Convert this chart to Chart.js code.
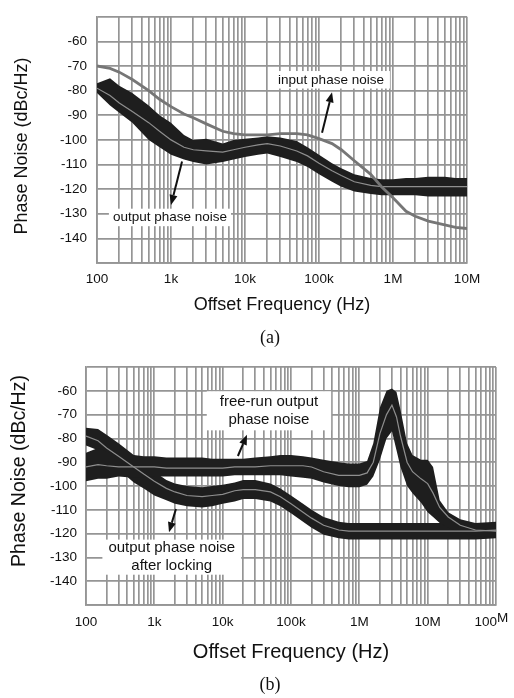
<!DOCTYPE html>
<html>
<head>
<meta charset="utf-8">
<script src="https://cdn.jsdelivr.net/npm/chart.js@4/dist/chart.umd.min.js"></script>
<style>
html,body{margin:0;padding:0;background:#fff;width:514px;height:698px;overflow:hidden}
.wrap{position:absolute;left:0;width:514px}
#wa{top:0;height:350px}
#wb{top:350px;height:348px}
.cap{position:absolute;font-family:"Liberation Serif","Times New Roman",serif;font-size:18px;color:#111;transform:translate(-50%,-50%);white-space:nowrap}
</style>
</head>
<body>
<div class="wrap" id="wa"><canvas id="ca" width="514" height="350"></canvas></div>
<div class="wrap" id="wb"><canvas id="cb" width="514" height="348"></canvas></div>
<div class="cap" style="left:270px;top:337px">(a)</div>
<div class="cap" style="left:270px;top:684px">(b)</div>
<script>
// ================= DATA: chart (a) =================
const freqA = [100,150,200,300,500,700,1e3,1.5e3,2e3,3e3,5e3,7e3,1e4,1.5e4,2e4,3e4,5e4,7e4,1e5,1.5e5,2e5,3e5,5e5,7e5,1e6,1.5e6,2e6,3e6,5e6,7e6,1e7];
const inputA = [-70,-71,-72.5,-75.5,-80,-83.5,-86.5,-89.5,-91,-93.5,-96.5,-97.5,-98,-98,-98,-97.5,-97.5,-98,-99.5,-101.5,-104,-108.5,-114,-119,-123.5,-129,-131,-133,-134.5,-135.5,-136];
const outputMeanA = [-79,-82,-85,-88.5,-93,-96.5,-100,-103,-104,-104.5,-105,-104,-103,-102,-101.5,-102.5,-104.5,-106.5,-109.5,-112.5,-114.5,-117,-118.5,-119,-119,-119,-119,-119,-119,-119,-119];
const outputUpperA = [-77,-75,-78,-81,-86,-90,-93,-98,-100,-99.5,-101.5,-100,-99.5,-99,-98.5,-99,-100.5,-103,-106,-109.5,-111.5,-114,-115.5,-116,-116,-115.5,-115.5,-115,-115,-115.5,-115.5];
const outputLowerA = [-81,-86,-89,-93,-100,-103,-106,-108,-109,-110,-109,-108,-107,-106,-105.5,-107,-109,-111,-114,-117,-119,-121,-122,-122.5,-122.5,-122.5,-122.5,-123,-123,-123,-123];
const xTickValuesA = [1e2,1e3,1e4,1e5,1e6,1e7];
const xTickLabelsA = ['100','1k','10k','100k','1M','10M'];

// ================= DATA: chart (b) =================
const freqB = [100,150,200,300,500,700,1e3,1.5e3,2e3,3e3,5e3,7e3,1e4,1.5e4,2e4,3e4,5e4,7e4,1e5,1.5e5,2e5,3e5,5e5,7e5,1e6,1.3e6,1.6e6,2e6,2.5e6,3e6,3.5e6,4e6,5e6,6e6,8e6,1e7,1.2e7,1.5e7,2e7,3e7,5e7,1e8];
const freeRunMeanB = [-92,-91,-91.5,-92,-92,-92,-92,-92.5,-92.5,-92.5,-92.5,-92.5,-92.5,-92,-92,-92,-91.5,-91.5,-91.5,-91.5,-92,-94,-95.5,-95.5,-95.5,-94.5,-90,-78,-70,-66,-71,-79,-90,-94,-97,-99,-103,-109,-113,-116.5,-118.5,-119];
const freeRunUpperB = [-86,-84,-85.5,-87,-87,-87.5,-87.5,-88,-88,-88,-88,-88.5,-88.5,-88.5,-88.5,-88,-87.5,-87,-87,-87.5,-88,-89,-90,-90.5,-90.5,-89.5,-82,-67,-60,-59,-60.5,-68,-82,-87,-89,-89,-92,-106,-111,-114,-115.5,-115.5];
const freeRunLowerB = [-98,-97,-97,-96,-96.5,-96.5,-96,-96,-96,-96,-96,-96,-96,-95.5,-95.5,-95.5,-95.5,-95.5,-96,-96.5,-97,-98.5,-100,-100.5,-100.5,-99.5,-96,-89,-80,-77,-85,-92,-100,-103,-107,-111,-113,-115.5,-117.5,-119.5,-121,-121.5];
const lockedMeanB = [-79,-81,-84,-87.5,-92,-95,-98,-101,-102.5,-104,-104.5,-104,-103.5,-102,-101.5,-101.5,-102.5,-104.5,-107.5,-111,-113.5,-116.5,-118.5,-119,-119,-119,-119,-119,-119,-119,-119,-119,-119,-119,-119,-119,-119,-119,-119,-119,-119,-118.5];
const lockedUpperB = [-75.5,-76,-78.5,-82,-87,-90.5,-94,-97.5,-99,-100,-100.5,-100,-99.5,-98.5,-97.5,-97.5,-99,-101,-104,-107.5,-110,-113,-115,-115.5,-115.5,-115.5,-115.5,-115.5,-115.5,-115.5,-115.5,-115.5,-115.5,-115.5,-115.5,-115.5,-115.5,-115.5,-115.5,-115.5,-115.5,-115];
const lockedLowerB = [-83,-85,-89,-93,-98.5,-101,-104,-106,-107.5,-108.5,-109,-108.5,-107.5,-106.5,-105.5,-105.5,-106.5,-108.5,-111.5,-115,-117.5,-120.5,-122,-122.5,-122.5,-122.5,-122.5,-122.5,-122.5,-122.5,-122.5,-122.5,-122.5,-122.5,-122.5,-122.5,-122.5,-122.5,-122.5,-122.5,-122.5,-122];
const xTickValuesB = [1e2,1e3,1e4,1e5,1e6,1e7,1e8];
const xTickLabelsB = ['100','1k','10k','100k','1M','10M','100M'];

// ================= shared axis labels =================
const yTickValues = [-150,-140,-130,-120,-110,-100,-90,-80,-70,-60,-50];
const yTickLabels = ['','-140','-130','-120','-110','-100','-90','-80','-70','-60',''];
const xTitle = 'Offset Frequency (Hz)';
const yTitle = 'Phase Noise (dBc/Hz)';

// ================= rendering =================
const FONT = '"Liberation Sans", Arial, Helvetica, sans-serif';
const GRID = '#959595';
const BAND = '#1e1e1e';
const MEAN = '#8e8e8e';
const INPUT = '#767676';

function pts(xs, ys){ return xs.map((x,i)=>({x:x, y:ys[i]})); }
function logGrid(lo, hi){
  const v=[];
  for(let e=lo;e<hi;e++){ for(let m=1;m<=9;m++){ v.push(m*Math.pow(10,e)); } }
  v.push(Math.pow(10,hi));
  return v;
}

function drawArrow(ctx, x1, y1, x2, y2){
  const ang = Math.atan2(y2-y1, x2-x1);
  const hl = 10, hw = 4;
  const bx = x2 - hl*Math.cos(ang), by = y2 - hl*Math.sin(ang);
  ctx.strokeStyle='#111'; ctx.fillStyle='#111'; ctx.lineWidth=2;
  ctx.beginPath(); ctx.moveTo(x1,y1); ctx.lineTo(bx,by); ctx.stroke();
  ctx.beginPath();
  ctx.moveTo(x2,y2);
  ctx.lineTo(bx + hw*Math.sin(ang), by - hw*Math.cos(ang));
  ctx.lineTo(bx - hw*Math.sin(ang), by + hw*Math.cos(ang));
  ctx.closePath(); ctx.fill();
}

const deco = {
  id:'deco',
  afterDatasetsDraw(chart, args, o){
    const ctx=chart.ctx, xs=chart.scales.x, ys=chart.scales.y;
    ctx.save();
    (o.labels||[]).forEach(l=>{
      ctx.font = l.size+'px '+FONT;
      const w = Math.max.apply(null, l.text.map(t=>ctx.measureText(t).width));
      const px = xs.getPixelForValue(l.x);
      const left = l.align==='left' ? px : px - w/2;
      const yFirst = ys.getPixelForValue(l.y[0]);
      const yLast = ys.getPixelForValue(l.y[l.y.length-1]);
      ctx.fillStyle='#fff';
      ctx.fillRect(left - l.padL, yFirst - l.size/2 - l.padY, w + l.padL + l.padR, (yLast-yFirst) + l.size + 2*l.padY);
      ctx.fillStyle='#111';
      ctx.textBaseline='middle';
      ctx.textAlign = l.align==='left' ? 'left' : 'center';
      l.text.forEach((t,i)=>ctx.fillText(t, px, ys.getPixelForValue(l.y[i])));
    });
    (o.arrows||[]).forEach(a=>{
      drawArrow(ctx, xs.getPixelForValue(a.from[0]), ys.getPixelForValue(a.from[1]),
                     xs.getPixelForValue(a.to[0]), ys.getPixelForValue(a.to[1]));
    });
    ctx.restore();
  },
  afterDraw(chart, args, o){
    const ctx=chart.ctx, xs=chart.scales.x;
    ctx.save();
    if(o.yTitle){
      ctx.translate(o.yTitle.x, o.yTitle.y);
      ctx.rotate(-Math.PI/2);
      ctx.font = o.yTitle.size+'px '+FONT;
      ctx.fillStyle='#111'; ctx.textAlign='center'; ctx.textBaseline='middle';
      ctx.fillText(o.yTitle.text, 0, 0);
      ctx.setTransform(1,0,0,1,0,0);
    }
    if(o.sup){
      const x = xs.getPixelForValue(o.sup.value);
      const y = xs.top + o.sup.pad + o.sup.size*1.2/2;
      ctx.fillStyle='#111'; ctx.textBaseline='middle';
      ctx.font = o.sup.size+'px '+FONT;
      ctx.textAlign='right';
      ctx.fillText(o.sup.label.slice(0,-1), x+1, y);
      ctx.textAlign='left';
      ctx.fillText(o.sup.label.slice(-1), x+1, y-4);
    }
    ctx.restore();
  }
};

function makeChart(canvasId, c){
  const grid = logGrid(c.loExp, c.hiExp);
  return new Chart(document.getElementById(canvasId), {
    type:'line',
    data:{ datasets: c.datasets },
    options:{
      responsive:false, animation:false, devicePixelRatio:1,
      layout:{ padding:{ left:0, right:c.padRight, top:c.padTop, bottom:0 } },
      elements:{ point:{ radius:0 }, line:{ tension:0 } },
      plugins:{ legend:{display:false}, tooltip:{enabled:false}, deco:c.deco },
      scales:{
        x:{
          type:'logarithmic', position:'bottom',
          min:Math.pow(10,c.loExp), max:Math.pow(10,c.hiExp),
          afterBuildTicks:s=>{ s.ticks = grid.map(v=>({value:v})); },
          afterFit:s=>{ s.height = c.xHeight; },
          grid:{ color:GRID, lineWidth:1.7, drawTicks:false },
          border:{ color:GRID, width:1.7 },
          ticks:{
            autoSkip:false, maxRotation:0, minRotation:0, padding:c.xTickPad, color:'#111',
            font:{ family:FONT, size:c.tickSize, lineHeight:1.2 },
            callback:(v)=>{
              const i = c.tickValues.indexOf(v);
              if(i<0) return '';
              if(c.deco.sup && v===c.deco.sup.value) return '';
              return c.tickLabels[i];
            }
          },
          title:{ display:true, text:xTitle, color:'#111', font:{family:FONT, size:c.xTitleSize, lineHeight:1.2}, padding:{top:0,bottom:c.xTitlePad} }
        },
        y:{
          type:'linear', position:'left', min:-150, max:-50,
          afterBuildTicks:s=>{ s.ticks = yTickValues.map(v=>({value:v})); },
          afterFit:s=>{ s.width = c.yWidth; },
          grid:{ color:GRID, lineWidth:1.7, drawTicks:false },
          border:{ color:GRID, width:1.7 },
          ticks:{
            padding:c.yTickPad, color:'#111',
            font:{ family:FONT, size:c.tickSize, lineHeight:1 },
            callback:(v)=>{ const i=yTickValues.indexOf(v); return i<0 ? '' : yTickLabels[i]; }
          }
        }
      }
    },
    plugins:[deco]
  });
}

function band(xs, up, lo, order){
  return [
    { data:pts(xs,up), borderWidth:0, borderColor:BAND, fill:false, order:order },
    { data:pts(xs,lo), borderWidth:0, borderColor:BAND, backgroundColor:BAND, fill:'-1', order:order }
  ];
}

// ---------- chart (a) ----------
makeChart('ca', {
  loExp:2, hiExp:7, padRight:47, padTop:7, xHeight:87, yWidth:97,
  xTickPad:8, yTickPad:10, tickSize:13.5, xTitleSize:18, xTitlePad:34,
  tickValues:xTickValuesA, tickLabels:xTickLabelsA,
  datasets:[].concat(
    band(freqA, outputUpperA, outputLowerA, 3),
    [{ data:pts(freqA,outputMeanA), borderColor:MEAN, borderWidth:1.2, fill:false, order:2 },
     { data:pts(freqA,inputA), borderColor:INPUT, borderWidth:2.8, fill:false, order:1 }]
  ),
  deco:{
    yTitle:{ text:yTitle, x:22, y:146, size:18 },
    labels:[
      { text:['input phase noise'], x:2.8e4, y:[-75.6], size:13.5, align:'left', padL:3, padR:6, padY:2 },
      { text:['output phase noise'], x:164, y:[-131.5], size:13.5, align:'left', padL:4, padR:4, padY:2 }
    ],
    arrows:[
      { from:[1.1e5,-97.1], to:[1.5e5,-80.7] },
      { from:[1.41e3,-108.8], to:[1.0e3,-126.4] }
    ]
  }
});

// ---------- chart (b) ----------
makeChart('cb', {
  loExp:2, hiExp:8, padRight:18, padTop:17, xHeight:93, yWidth:86,
  xTickPad:9, yTickPad:9, tickSize:13.5, xTitleSize:20, xTitlePad:34,
  tickValues:xTickValuesB, tickLabels:xTickLabelsB,
  datasets:[].concat(
    band(freqB, freeRunUpperB, freeRunLowerB, 3),
    band(freqB, lockedUpperB, lockedLowerB, 3),
    [{ data:pts(freqB,freeRunMeanB), borderColor:MEAN, borderWidth:1.2, fill:false, order:2 },
     { data:pts(freqB,lockedMeanB), borderColor:MEAN, borderWidth:1.2, fill:false, order:2 }]
  ),
  deco:{
    yTitle:{ text:yTitle, x:20, y:121, size:19.5 },
    sup:{ value:1e8, label:xTickLabelsB[xTickLabelsB.length-1], size:13.5, pad:9 },
    labels:[
      { text:['free-run output','phase noise'], x:4.76e4, y:[-64.6,-72.2], size:15, align:'center', padL:13, padR:13, padY:3 },
      { text:['output phase noise','after locking'], x:1.8e3, y:[-126.1,-133.7], size:15, align:'center', padL:6, padR:6, padY:1 }
    ],
    arrows:[
      { from:[1.67e4,-87.4], to:[2.27e4,-78.5] },
      { from:[2.07e3,-109.7], to:[1.64e3,-119.4] }
    ]
  }
});
</script>
</body>
</html>
